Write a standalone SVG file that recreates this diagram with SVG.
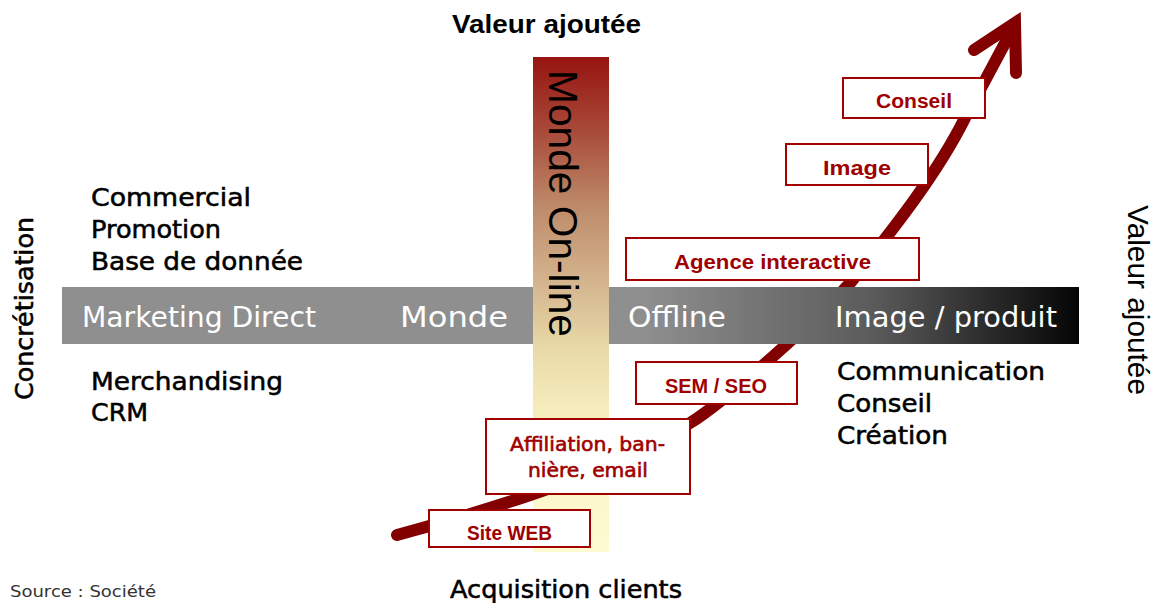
<svg xmlns="http://www.w3.org/2000/svg" width="1162" height="603" viewBox="0 0 1162 603">
<style>
.blk{font-family:"DejaVu Sans",sans-serif;font-size:25px;fill:#000;stroke:#000;stroke-width:0.55}
.bar{font-family:"DejaVu Sans",sans-serif;font-size:28px;fill:#fff}
.box{fill:#fff;stroke:#a30000;stroke-width:2}
.bt{font-family:"Liberation Sans",Arial,sans-serif;font-weight:bold;font-size:20px;fill:#a00000}
.bt2{font-family:"DejaVu Sans",sans-serif;font-size:19px;fill:#a00000;stroke:#a00000;stroke-width:0.6}
.arrow{fill:none;stroke:#820000;stroke-width:12}
</style>
<defs>
<linearGradient id="gv" x1="0" y1="0" x2="0" y2="1">
<stop offset="0" stop-color="#961410"/>
<stop offset="0.15" stop-color="#a84a3a"/>
<stop offset="0.3" stop-color="#bd8a69"/>
<stop offset="0.45" stop-color="#d3b38d"/>
<stop offset="0.6" stop-color="#eadcaa"/>
<stop offset="0.75" stop-color="#f9f1c2"/>
<stop offset="1" stop-color="#fefbd2"/>
</linearGradient>
<linearGradient id="gh" gradientUnits="userSpaceOnUse" x1="62" y1="0" x2="1079" y2="0">
<stop offset="0" stop-color="#8f8f8f"/>
<stop offset="0.57" stop-color="#8f8f8f"/>
<stop offset="0.8" stop-color="#5a5a5a"/>
<stop offset="1" stop-color="#050505"/>
</linearGradient>
</defs>
<rect id="online-bar" x="533" y="57" width="76" height="495" fill="url(#gv)"/>
<g id="connectors">
<path class="arrow" stroke-linecap="round" d="M397,535 C500,507 610,473 690,423 C730,398 824,312 851,282 C895,227 937.5,173 965,118 L1013,28"/>
<path class="arrow" stroke-linecap="round" stroke-linejoin="miter" d="M974,50 L1015,23 L1016,73"/>
</g>
<g id="axis-bar">
<rect x="62" y="287" width="471" height="57" fill="url(#gh)"/>
<rect x="609" y="287" width="470" height="57" fill="url(#gh)"/>
<text class="bar" x="82" y="327" textLength="234" lengthAdjust="spacingAndGlyphs">Marketing Direct</text>
<text class="bar" x="400" y="327" textLength="108" lengthAdjust="spacingAndGlyphs">Monde</text>
<text class="bar" x="628" y="327" textLength="98" lengthAdjust="spacingAndGlyphs">Offline</text>
<text class="bar" x="835" y="327" textLength="222" lengthAdjust="spacingAndGlyphs">Image / produit</text>
</g>
<text transform="translate(549,203.5) rotate(90)" text-anchor="middle" font-family="Liberation Sans,Arial,sans-serif" font-size="41" fill="#000" textLength="267" lengthAdjust="spacingAndGlyphs">Monde On-line</text>
<g id="n-conseil"><rect class="box" x="843" y="78" width="142" height="40"/><text class="bt" x="876" y="108" textLength="76" lengthAdjust="spacingAndGlyphs">Conseil</text></g>
<g id="n-image"><rect class="box" x="786" y="144" width="142" height="41"/><text class="bt" x="823" y="175" font-size="21" textLength="68" lengthAdjust="spacingAndGlyphs">Image</text></g>
<g id="n-agence"><rect class="box" x="626" y="238" width="293" height="42"/><text class="bt" x="674" y="269" textLength="197" lengthAdjust="spacingAndGlyphs">Agence interactive</text></g>
<g id="n-sem"><rect class="box" x="636" y="362" width="161" height="42"/><text class="bt" x="665" y="393" textLength="102" lengthAdjust="spacingAndGlyphs">SEM / SEO</text></g>
<g id="n-affiliation"><rect class="box" x="486" y="419" width="204" height="75"/><text class="bt2" x="510" y="451" textLength="155" lengthAdjust="spacingAndGlyphs">Affiliation, ban-</text><text class="bt2" x="528" y="477" textLength="120" lengthAdjust="spacingAndGlyphs">nière, email</text></g>
<g id="n-site"><rect class="box" x="429" y="510" width="161" height="37"/><text class="bt" x="467" y="540" font-size="19" textLength="85" lengthAdjust="spacingAndGlyphs">Site WEB</text></g>
<g id="labels-left">
<text class="blk" x="91" y="206" textLength="160" lengthAdjust="spacingAndGlyphs">Commercial</text>
<text class="blk" x="91" y="238" textLength="130" lengthAdjust="spacingAndGlyphs">Promotion</text>
<text class="blk" x="91" y="270" textLength="212" lengthAdjust="spacingAndGlyphs">Base de donnée</text>
<text class="blk" x="91" y="390" textLength="192" lengthAdjust="spacingAndGlyphs">Merchandising</text>
<text class="blk" x="91" y="421" textLength="57" lengthAdjust="spacingAndGlyphs">CRM</text>
</g>
<g id="labels-right">
<text class="blk" x="837" y="380" textLength="208" lengthAdjust="spacingAndGlyphs">Communication</text>
<text class="blk" x="837" y="412" textLength="95" lengthAdjust="spacingAndGlyphs">Conseil</text>
<text class="blk" x="837" y="444" textLength="111" lengthAdjust="spacingAndGlyphs">Création</text>
</g>
<g id="axes-titles">
<text x="452" y="33" font-family="Liberation Sans,Arial,sans-serif" font-weight="bold" font-size="25" fill="#000" textLength="189" lengthAdjust="spacingAndGlyphs">Valeur ajoutée</text>
<text x="450" y="598" class="blk" textLength="232" lengthAdjust="spacingAndGlyphs">Acquisition clients</text>
<text transform="translate(33,308.5) rotate(-90)" text-anchor="middle" class="blk" font-size="24" textLength="183" lengthAdjust="spacingAndGlyphs">Concrétisation</text>
<text transform="translate(1128,300) rotate(90)" text-anchor="middle" font-family="Liberation Sans,Arial,sans-serif" font-size="29.5" fill="#000" textLength="190" lengthAdjust="spacingAndGlyphs">Valeur ajoutée</text>
</g>
<text x="10" y="597" font-family="DejaVu Sans,sans-serif" font-size="16" fill="#333" textLength="146" lengthAdjust="spacingAndGlyphs">Source : Société</text>
</svg>
